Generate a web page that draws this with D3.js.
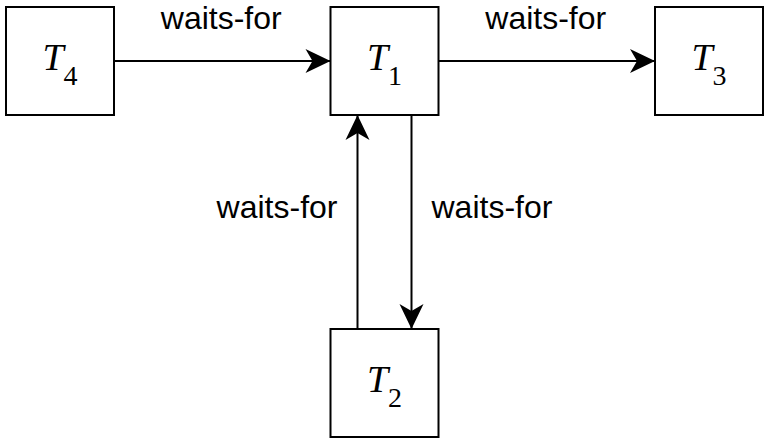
<!DOCTYPE html>
<html>
<head>
<meta charset="utf-8">
<script src="https://cdn.jsdelivr.net/npm/d3@7"></script>
<style>
  body { margin: 0; background: #fff; }
</style>
</head>
<body>
<div id="chart"></div>
<script>
var nodeNames = ['T4', 'T1', 'T3', 'T2'];
var nodeSubs = ['4', '1', '3', '2'];
var nodeCols = [0, 1, 2, 1];
var nodeRows = [0, 0, 0, 1];

// edges: from -> to, with label
var edgeFrom = ['T4', 'T1', 'T2', 'T1'];
var edgeTo = ['T1', 'T3', 'T1', 'T2'];
var edgeLabels = ['waits-for', 'waits-for', 'waits-for', 'waits-for'];

var w = 768,
    h = 443,
    box = 108,
    pairGap = 27;

var x = d3.scalePoint().domain([0, 1, 2]).range([60, 709]);
var y = d3.scalePoint().domain([0, 1]).range([61, 383]);

var svg = d3.select('#chart')
  .append('svg')
    .attr('width', w)
    .attr('height', h);

svg.append('defs').append('marker')
    .attr('id', 'head')
    .attr('markerUnits', 'userSpaceOnUse')
    .attr('viewBox', '-26 -13 28 26')
    .attr('markerWidth', 28)
    .attr('markerHeight', 26)
    .attr('refX', 0)
    .attr('refY', 0)
    .attr('orient', 'auto')
  .append('path')
    .attr('d', 'M0,0L-25,-12L-18,0L-25,12Z')
    .attr('fill', '#000');

var nodes = nodeNames.map(function(n, i) {
  return { name: n, sub: nodeSubs[i], cx: x(nodeCols[i]), cy: y(nodeRows[i]) };
});
var byName = {};
nodes.forEach(function(d) { byName[d.name] = d; });

var half = box / 2;

// work out line ends for each edge
var edges = edgeFrom.map(function(f, i) {
  var a = byName[f], b = byName[edgeTo[i]];
  var e = { label: edgeLabels[i] };
  if (a.cy === b.cy) {
    var dir = b.cx > a.cx ? 1 : -1;
    e.x1 = a.cx + dir * half; e.x2 = b.cx - dir * half;
    e.y1 = e.y2 = a.cy;
    e.lx = (e.x1 + e.x2) / 2 - 1; e.ly = a.cy - 32; e.anchor = 'middle';
  } else {
    var down = b.cy > a.cy ? 1 : -1;
    // downward edge sits right of centre, upward edge left of it
    var off = down > 0 ? pairGap : -pairGap;
    e.x1 = e.x2 = a.cx + off;
    e.y1 = a.cy + down * half; e.y2 = b.cy - down * half;
    e.lx = e.x1 + (off > 0 ? 20 : -20);
    e.ly = (e.y1 + e.y2) / 2 - 4;
    e.anchor = off > 0 ? 'start' : 'end';
  }
  return e;
});

svg.selectAll('line.edge')
    .data(edges)
  .enter().append('line')
    .attr('class', 'edge')
    .attr('x1', function(d) { return d.x1; })
    .attr('y1', function(d) { return d.y1; })
    .attr('x2', function(d) { return d.x2; })
    .attr('y2', function(d) { return d.y2; })
    .attr('stroke', '#000')
    .attr('stroke-width', 2)
    .attr('marker-end', 'url(#head)');

svg.selectAll('text.lbl')
    .data(edges)
  .enter().append('text')
    .attr('class', 'lbl')
    .attr('x', function(d) { return d.lx; })
    .attr('y', function(d) { return d.ly; })
    .attr('text-anchor', function(d) { return d.anchor; })
    .attr('font-family', 'Liberation Sans, Arial, sans-serif')
    .attr('font-size', 32)
    .attr('fill', '#000')
    .text(function(d) { return d.label; });

var g = svg.selectAll('g.node')
    .data(nodes)
  .enter().append('g')
    .attr('class', 'node')
    .attr('transform', function(d) { return 'translate(' + d.cx + ',' + d.cy + ')'; });

g.append('rect')
    .attr('x', -half)
    .attr('y', -half)
    .attr('width', box)
    .attr('height', box)
    .attr('fill', '#fff')
    .attr('stroke', '#000')
    .attr('stroke-width', 2);

var t = g.append('text')
    .attr('x', 0)
    .attr('y', 9)
    .attr('text-anchor', 'middle')
    .attr('font-family', 'Liberation Serif, DejaVu Serif, serif');

t.append('tspan')
    .attr('font-style', 'italic')
    .attr('font-size', 38)
    .text('T');
t.append('tspan')
    .attr('font-size', 28)
    .attr('dx', 0)
    .attr('dy', 15)
    .text(function(d) { return d.sub; });
</script>
</body>
</html>
